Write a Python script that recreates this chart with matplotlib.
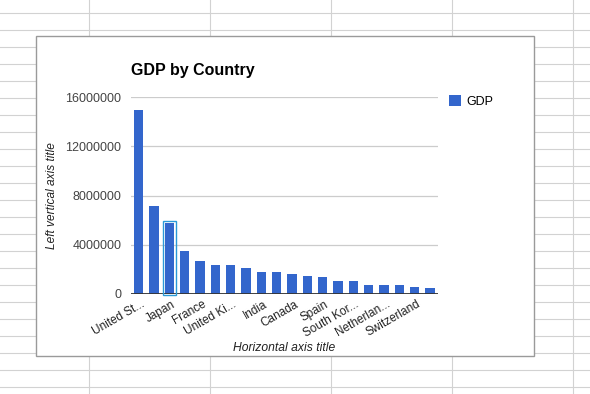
import numpy as np
import matplotlib.pyplot as plt
import matplotlib.transforms as mtrans
from matplotlib.patches import Rectangle

# GDP by country
countries = ["United States", "China", "Japan", "Germany", "France",
             "Brazil", "United Kingdom", "Italy", "Russia", "India",
             "Canada", "Australia", "Spain", "Mexico", "South Korea",
             "Indonesia", "Netherlands", "Turkey", "Switzerland", "Saudi Arabia"]
gdp = [14970000, 7160000, 5800000, 3500000, 2680000,
       2360000, 2360000, 2120000, 1790000, 1790000,
       1630000, 1460000, 1380000, 1060000, 1060000,
       730000, 730000, 730000, 570000, 490000]
# only every other category gets a label, truncated like the original
shown_labels = ["United St...", "Japan", "France", "United Ki...", "India",
                "Canada", "Spain", "South Kor...", "Netherlan...", "Switzerland"]
yticks = [0, 4000000, 8000000, 12000000, 16000000]

W, H = 590, 394
plt.rcParams['font.family'] = ['Liberation Sans', 'DejaVu Sans']
fig = plt.figure(figsize=(W / 100, H / 100), dpi=100)

# spreadsheet behind the chart
bg = fig.add_axes([0, 0, 1, 1])
bg.set_xlim(0, W)
bg.set_ylim(H, 0)
bg.axis('off')
for yy in np.arange(12.5, H, 17):
    bg.axhline(yy, color='#d2d2d2', lw=0.8)
for xx in np.arange(88.5, W, 121):
    bg.axvline(xx, color='#d2d2d2', lw=0.8)
bg.add_patch(Rectangle((35.5, 35.5), 498, 320.5, facecolor='white',
                       edgecolor='#9a9a9a', lw=1, zorder=5))

# the chart
left, right, top, bottom = 131, 437.7, 97.3, 294
ax = fig.add_axes([left / W, 1 - bottom / H, (right - left) / W, (bottom - top) / H])
ax.set_zorder(10)
ax.patch.set_alpha(0)

x = np.arange(len(gdp))
ax.bar(x, gdp, width=0.6, color='#3366cc', zorder=3, label='GDP')
ax.set_xlim(-0.5, len(gdp) - 0.5)
ax.set_ylim(0, 16000000)

ax.set_yticks(yticks)
ax.set_yticklabels([str(v) for v in yticks], fontsize=9, color='#444444')
ax.yaxis.grid(True, color='#cccccc', lw=0.9)
ax.set_axisbelow(True)
ax.axhline(0, color='#333333', lw=1.3, zorder=4)
for s in ax.spines.values():
    s.set_visible(False)
ax.tick_params(length=0, axis='y', pad=7)
ax.tick_params(length=0, axis='x', pad=3)

ax.set_xticks(x[::2])
ax.set_xticklabels(shown_labels, rotation=30, ha='right', rotation_mode='anchor',
                   fontsize=8.5, color='#222222')
shift = mtrans.ScaledTranslation(2 / 100, 0, fig.dpi_scale_trans)
for lab in ax.get_xticklabels():
    lab.set_transform(lab.get_transform() + shift)

# selection outline round the Japan bar
ax.add_patch(Rectangle((1.57, -100000), 0.87, gdp[2] + 200000, fill=False,
                       edgecolor='#2a9ad8', lw=1, zorder=5, clip_on=False))

fig.text(left / W, 1 - 75 / H, 'GDP by Country', fontsize=11.5, weight='bold',
         va='baseline', ha='left', zorder=20)
fig.text(51.7 / W, 1 - 195.5 / H, 'Left vertical axis title', rotation=90,
         style='italic', fontsize=8.6, ha='center', va='center', color='#222222', zorder=20)
fig.text(284 / W, 1 - 348.3 / H, 'Horizontal axis title', style='italic',
         fontsize=8.7, ha='center', va='center', color='#222222', zorder=20)

ax.legend(loc='upper left', bbox_to_anchor=(449 / W, 1 - 95 / H),
          bbox_transform=fig.transFigure, frameon=False, fontsize=9,
          handlelength=0.95, handleheight=0.95, handletextpad=0.45,
          borderpad=0, borderaxespad=0)

fig.savefig('out.png', dpi=100)
